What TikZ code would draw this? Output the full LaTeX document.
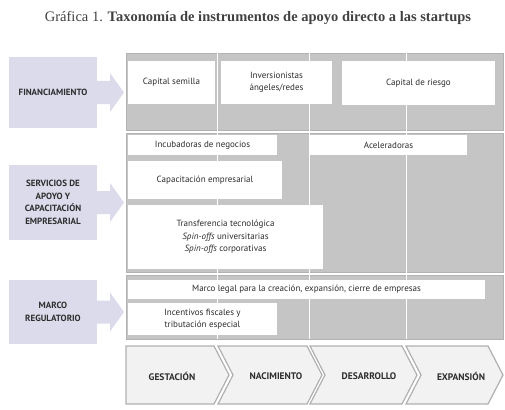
\documentclass[tikz,border=0pt]{standalone}
\usepackage{fontspec}
\setmainfont{PT Sans}
\newfontfamily\titlefont{Liberation Serif}
\usetikzlibrary{calc}
\definecolor{panelgray}{RGB}{197,197,197}
\definecolor{panelline}{RGB}{178,178,178}
\definecolor{lavender}{RGB}{219,219,236}
\definecolor{chevfill}{RGB}{242,242,242}
\definecolor{chevline}{RGB}{176,176,176}
\definecolor{textgray}{RGB}{45,45,45}
\definecolor{titlegray}{RGB}{65,65,65}
\newcommand\areaarrow[1]{\fill[lavender] ($(#1.east)+(0,-11.5)$) -- ($(#1.east)+(13,-11.5)$) -- ($(#1.east)+(13,-19.5)$) -- ($(#1.east)+(27,0)$) -- ($(#1.east)+(13,19.5)$) -- ($(#1.east)+(13,11.5)$) -- ($(#1.east)+(0,11.5)$) -- cycle;}

\begin{document}
\begin{tikzpicture}[x=1pt,y=-1pt,
	areabox/.style={fill=lavender, text=textgray, font=\bfseries\fontsize{9}{12.5}\selectfont, align=center, anchor=north west, minimum width=88pt, inner sep=0pt, outer sep=0pt},
	wbox/.style={fill=white, text=textgray, font=\fontsize{9}{12.5}\selectfont, align=center, anchor=north west, inner sep=0pt, outer sep=0pt},
	panel/.style={fill=panelgray, draw=panelline, line width=0.8pt},
	chev/.style={fill=chevfill, draw=chevline, line width=1.2pt},
	stage/.style={text=textgray, font=\bfseries\fontsize{9.5}{11}\selectfont}]
	  \useasboundingbox (0,0) rectangle (505,409);
	  \node[text=titlegray, font=\titlefont\fontsize{14.5}{17}\selectfont] (title) at (258,18) {Gráfica 1. \textbf{Taxonomía de instrumentos de apoyo directo a las startups}};
	  \draw[panel] (126,53) rectangle (503,130);
	  \draw[panel] (126,133) rectangle (503,272);
	  \draw[panel] (126,275) rectangle (503,339);
	  \draw[white, line width=1pt] (217,53) -- (217,339);
	  \draw[white, line width=1pt] (309,53) -- (309,339);
	  \draw[white, line width=1pt] (406,53) -- (406,339);
	  \node[areabox, minimum height=71pt] (fin) at (9,57) {FINANCIAMIENTO};
	  \node[areabox, minimum height=75pt] (serv) at (9,165) {SERVICIOS DE\\APOYO Y\\CAPACITACIÓN\\EMPRESARIAL};
	  \node[areabox, minimum height=64pt] (marco) at (9,280) {MARCO\\REGULATORIO};
	  \areaarrow{fin}
	  \areaarrow{serv}
	  \areaarrow{marco}
	  \node[wbox, minimum width=87pt, minimum height=43pt] (semilla) at (128,61) {Capital semilla};
	  \node[wbox, minimum width=111pt, minimum height=43pt] (angeles) at (221,61) {Inversionistas\\ángeles/redes};
	  \node[wbox, minimum width=153pt, minimum height=44pt] (riesgo) at (342,61) {Capital de riesgo};
	  \node[wbox, minimum width=149pt, minimum height=20pt] (incub) at (128,135) {Incubadoras de negocios};
	  \node[wbox, minimum width=157pt, minimum height=20pt] (acel) at (310,135) {Aceleradoras};
	  \node[wbox, minimum width=154pt, minimum height=38pt] (capac) at (128,161) {Capacitación empresarial};
	  \node[wbox, minimum width=195pt, minimum height=64pt] (transf) at (128,205) {Transferencia tecnológica\\\textit{Spin-offs} universitarias\\\textit{Spin-offs} corporativas};
	  \node[wbox, minimum width=357pt, minimum height=19pt] (legal) at (128,280) {Marco legal para la creación, expansión, cierre de empresas};
	  \node[wbox, minimum width=149pt, minimum height=32pt] (incent) at (128,303) {Incentivos fiscales y\\tributación especial};
	  \draw[chev] (126,346) -- (214,346) -- (229,375) -- (214,404) -- (126,404) -- cycle;
	  \draw[chev] (218,346) -- (307,346) -- (322,375) -- (307,404) -- (218,404) -- (233,375) -- cycle;
	  \draw[chev] (310,346) -- (402,346) -- (417,375) -- (402,404) -- (310,404) -- (325,375) -- cycle;
	  \draw[chev] (406,346) -- (488,346) -- (503,375) -- (488,404) -- (406,404) -- (421,375) -- cycle;
	  \node[stage] (gest) at (172,376) {GESTACIÓN};
	  \node[stage] (nac) at (276,376) {NACIMIENTO};
	  \node[stage] (desa) at (369,376) {DESARROLLO};
	  \node[stage] (expa) at (461,376) {EXPANSIÓN};
	\end{tikzpicture}
\end{document}
